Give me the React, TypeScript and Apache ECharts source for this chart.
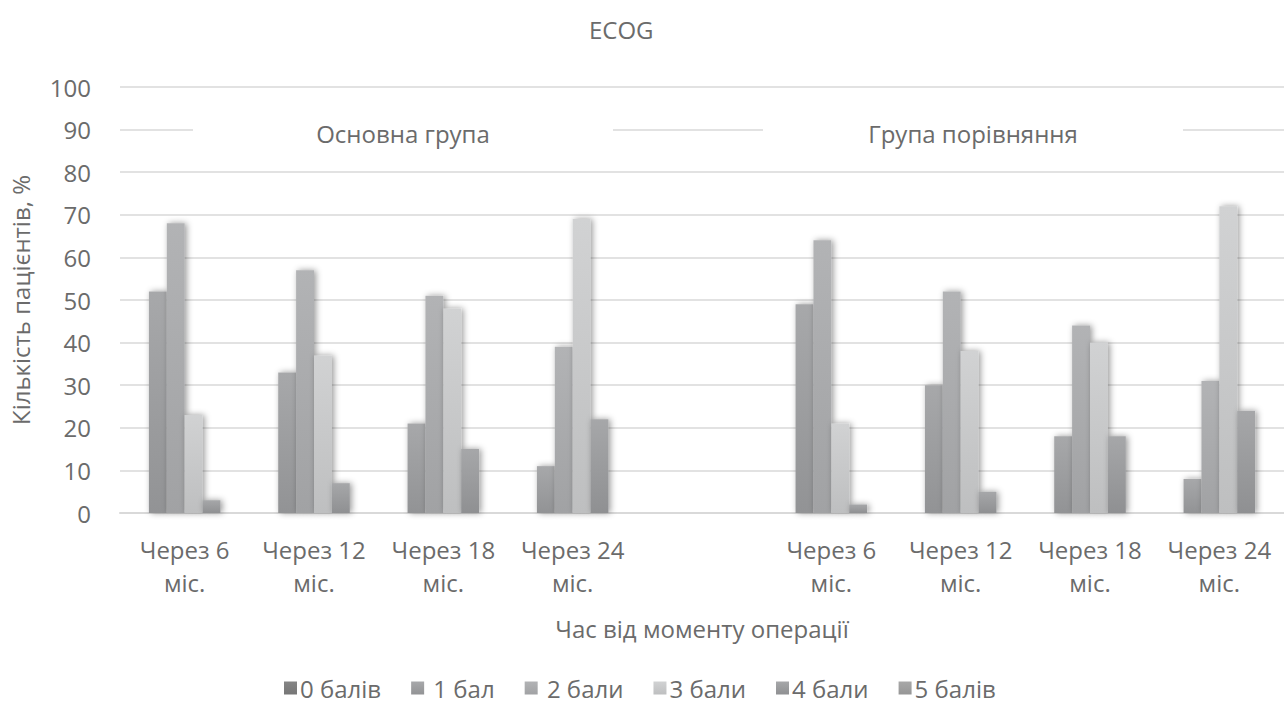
import React, { useEffect, useRef } from "react";
import * as echarts from "echarts";

const categories = [
  "Через 6\nміс.",
  "Через 12\nміс.",
  "Через 18\nміс.",
  "Через 24\nміс.",
  "",
  "Через 6\nміс.",
  "Через 12\nміс.",
  "Через 18\nміс.",
  "Через 24\nміс.",
];

const seriesNames = ["0 балів", "1 бал", "2 бали", "3 бали", "4 бали", "5 балів"];

const score0 = [0, 0, 0, 0, null, 0, 0, 0, 0];
const score1 = [52, 33, 21, 11, null, 49, 30, 18, 8];
const score2 = [68, 57, 51, 39, null, 64, 52, 44, 31];
const score3 = [23, 37, 48, 69, null, 21, 38, 40, 72];
const score4 = [3, 7, 15, 22, null, 2, 5, 18, 24];
const score5 = [0, 0, 0, 0, null, 0, 0, 0, 0];

const yTicks = [0, 10, 20, 30, 40, 50, 60, 70, 80, 90, 100];

const groupLabels = ["Основна група", "Група порівняння"];

const FONT = "'Open Sans', 'Noto Sans', sans-serif";
const TEXT = "#6b6b6b";
const FS = 24;

const colorStops: [string, string][] = [
  ["#858585", "#767676"],
  ["#a7a8aa", "#929395"],
  ["#b2b3b5", "#a1a2a4"],
  ["#d1d2d3", "#bebfc0"],
  ["#a6a7a9", "#8f9092"],
  ["#a8a8a8", "#969696"],
];

export default function App() {
  const ref = useRef<HTMLDivElement>(null);

  useEffect(() => {
    if (!ref.current) return;
    const chart = echarts.init(ref.current, undefined, { renderer: "svg" });
    const values = [score0, score1, score2, score3, score4, score5];

    const series = seriesNames.map((name, i) => ({
      name,
      type: "bar",
      data: values[i],
      barGap: "0%",
      barCategoryGap: "17%",
      itemStyle: {
        color: new echarts.graphic.LinearGradient(0, 0, 0, 1, [
          { offset: 0, color: colorStops[i][0] },
          { offset: 1, color: colorStops[i][1] },
        ]),
        shadowBlur: 6,
        shadowColor: "rgba(0,0,0,0.4)",
        shadowOffsetX: 2,
        shadowOffsetY: 0,
      },
    }));

    const boxes = [
      { left: 193, width: 420, text: groupLabels[0] },
      { left: 763, width: 420, text: groupLabels[1] },
    ];

    const graphics: any[] = [];
    boxes.forEach((b) => {
      graphics.push({
        type: "rect",
        z: 100,
        shape: { x: b.left, y: 112, width: b.width, height: 40 },
        style: { fill: "#ffffff" },
      });
      graphics.push({
        type: "text",
        z: 101,
        x: b.left + b.width / 2,
        y: 133,
        style: {
          text: b.text,
          fontFamily: FONT,
          fontSize: FS,
          fill: TEXT,
          align: "center",
          verticalAlign: "middle",
        },
      });
    });

    chart.setOption({
      animation: false,
      backgroundColor: "#ffffff",
      textStyle: { fontFamily: FONT },
      title: {
        text: "ECOG",
        left: 584,
        top: 12,
        textStyle: { fontFamily: FONT, fontSize: FS, fontWeight: "normal", color: TEXT },
      },
      legend: {
        data: seriesNames,
        bottom: 15,
        left: 279,
        itemWidth: 13,
        itemHeight: 13,
        itemGap: 30,
        icon: "rect",
        formatter: (n: string) => (n === "1 бал" || n === "2 бали" ? " " + n : n),
        textStyle: { fontFamily: FONT, fontSize: FS, color: TEXT, padding: [0, 0, 0, -2] },
      },
      grid: { left: 120, right: -6, top: 87, bottom: 207, containLabel: false },
      xAxis: {
        type: "category",
        data: categories,
        name: "Час від моменту операції",
        nameLocation: "middle",
        nameGap: 103,
        nameTextStyle: { fontFamily: FONT, fontSize: FS, color: TEXT },
        axisLine: { show: true, lineStyle: { color: "#d9d9d9", width: 2 } },
        axisTick: { show: false },
        axisLabel: {
          interval: 0,
          margin: 20,
          fontFamily: FONT,
          fontSize: FS,
          lineHeight: 33,
          color: TEXT,
        },
        splitLine: { show: false },
      },
      yAxis: {
        type: "value",
        min: yTicks[0],
        max: yTicks[yTicks.length - 1],
        interval: 10,
        name: "Кількість пацієнтів, %",
        nameLocation: "middle",
        nameGap: 88,
        nameTextStyle: { fontFamily: FONT, fontSize: FS, color: TEXT },
        axisLine: { show: false },
        axisTick: { show: false },
        axisLabel: { margin: 29, fontFamily: FONT, fontSize: FS, color: TEXT },
        splitLine: { show: true, lineStyle: { color: "#d9d9d9", width: 1.5 } },
      },
      graphic: graphics,
      series,
    });

    return () => chart.dispose();
  }, []);

  return (
    <div
      ref={ref}
      style={{ position: "fixed", left: 0, top: 0, width: 1284, height: 720 }}
    />
  );
}
